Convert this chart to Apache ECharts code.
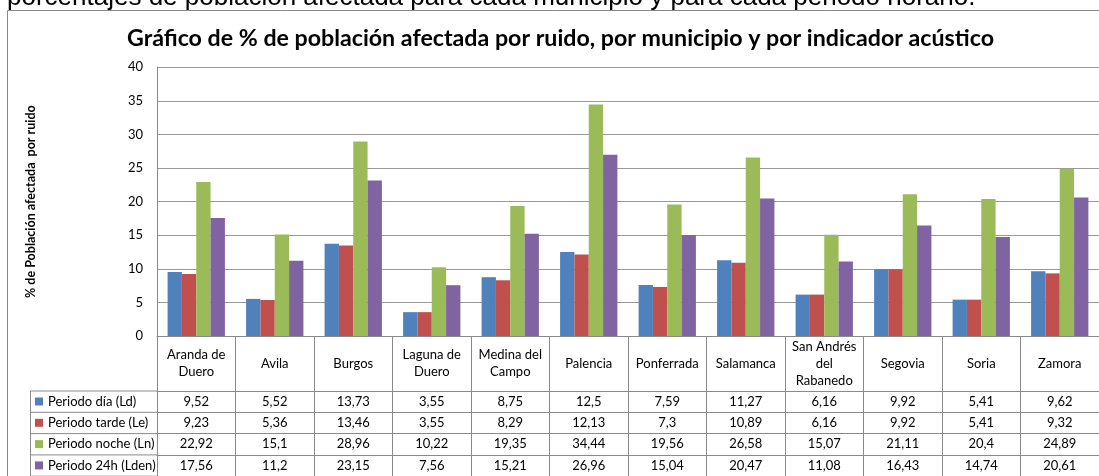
<!DOCTYPE html>
<html>
<head>
<meta charset="utf-8">
<script src="https://cdn.jsdelivr.net/npm/echarts@6/dist/echarts.min.js"></script>
<style>
html,body{margin:0;padding:0;background:#fff;}
#chart{width:1099px;height:476px;}
</style>
</head>
<body>
<div id="chart"></div>
<script>
const categories = ['Aranda de\nDuero','Avila','Burgos','Laguna de\nDuero','Medina del\nCampo','Palencia','Ponferrada','Salamanca','San Andrés\ndel\nRabanedo','Segovia','Soria','Zamora'];
const seriesNames = ['Periodo día (Ld)','Periodo tarde (Le)','Periodo noche (Ln)','Periodo 24h (Lden)'];
const periodoDia = [9.52,5.52,13.73,3.55,8.75,12.5,7.59,11.27,6.16,9.92,5.41,9.62];
const periodoTarde = [9.23,5.36,13.46,3.55,8.29,12.13,7.3,10.89,6.16,9.92,5.41,9.32];
const periodoNoche = [22.92,15.1,28.96,10.22,19.35,34.44,19.56,26.58,15.07,21.11,20.4,24.89];
const periodo24h = [17.56,11.2,23.15,7.56,15.21,26.96,15.04,20.47,11.08,16.43,14.74,20.61];
const yMin = 0, yMax = 40, yStep = 5;
const colors = ['#4F81BD','#C0504D','#9BBB59','#8064A2'];

const seriesData = [periodoDia, periodoTarde, periodoNoche, periodo24h];
const fmt = v => String(v).replace('.', ',');
const lineColor = '#8a8a8a';
const font = 'Lato';
const catRowH = 55, rowH = 21.3;

const xAxes = [{
  type: 'category', data: categories, position: 'bottom',
  axisLine: {show: true, lineStyle: {color: lineColor}},
  axisTick: {show: true, length: catRowH, interval: 0, lineStyle: {color: lineColor}},
  axisLabel: {interval: 0, margin: catRowH/2, verticalAlign: 'middle', lineHeight: 17, color: '#000', fontFamily: font, fontSize: 13},
  splitLine: {show: false}
}];
seriesData.forEach((arr, k) => {
  xAxes.push({
    type: 'category', data: categories, position: 'bottom', offset: catRowH + rowH*k,
    axisLine: {show: true, lineStyle: {color: lineColor}},
    axisTick: {show: true, length: rowH, interval: 0, lineStyle: {color: lineColor}},
    axisLabel: {interval: 0, margin: rowH/2, verticalAlign: 'middle', color: '#000', fontFamily: font, fontSize: 13,
      formatter: (val, idx) => fmt(arr[idx])},
    splitLine: {show: false}
  });
});

const chart = echarts.init(document.getElementById('chart'));
const tableTop = 336 + catRowH;
const gLines = [];
for (let k = 0; k <= 4; k++) {
  gLines.push({type: 'line', shape: {x1: 30, y1: tableTop + rowH*k, x2: 157, y2: tableTop + rowH*k}, style: {stroke: lineColor, lineWidth: 1}});
}
gLines.push({type: 'line', shape: {x1: 30.5, y1: tableTop, x2: 30.5, y2: 476}, style: {stroke: lineColor, lineWidth: 1}});
gLines.push({type: 'line', shape: {x1: 7.5, y1: 10.5, x2: 1099, y2: 10.5}, style: {stroke: lineColor, lineWidth: 1}});
gLines.push({type: 'line', shape: {x1: 7.5, y1: 10.5, x2: 7.5, y2: 476}, style: {stroke: lineColor, lineWidth: 1}});
gLines.push({type: 'text', left: 7, top: -15, style: {text: 'porcentajes de población afectada para cada municipio y para cada periodo horario.', font: '26px "Liberation Sans"', fill: '#000'}});

chart.setOption({
  animation: false,
  color: colors,
  title: {
    text: 'Gráfico de % de población afectada por ruido, por municipio y por indicador acústico',
    left: 122, top: 22,
    textStyle: {fontFamily: font, fontWeight: 'bold', fontSize: 23.2, color: '#000'}
  },
  legend: {
    orient: 'vertical', left: 35, top: tableTop + 3.5, itemGap: rowH - 14, padding: 0, height: 120,
    itemWidth: 8, itemHeight: 8, icon: 'rect',
    textStyle: {fontFamily: font, fontSize: 13, color: '#000', lineHeight: 14},
    data: seriesNames
  },
  grid: {left: 157, right: 0, top: 67.2, bottom: 476 - 336, containLabel: false},
  xAxis: xAxes,
  yAxis: {
    type: 'value', min: yMin, max: yMax, interval: yStep,
    name: '% de Población afectada  por ruido', nameLocation: 'middle', nameGap: 120,
    nameTextStyle: {fontFamily: font, fontWeight: 'bold', fontSize: 12.5, color: '#000'},
    axisLine: {show: true, lineStyle: {color: lineColor}},
    axisTick: {show: false},
    axisLabel: {margin: 14, color: '#000', fontFamily: font, fontSize: 13},
    splitLine: {show: true, lineStyle: {color: '#999', width: 1}}
  },
  graphic: gLines,
  series: seriesData.map((arr, i) => ({
    name: seriesNames[i], type: 'bar', data: arr, xAxisIndex: 0,
    barGap: '0%', barCategoryGap: '27%',
    itemStyle: {color: colors[i]}
  }))
});
</script>
</body>
</html>
